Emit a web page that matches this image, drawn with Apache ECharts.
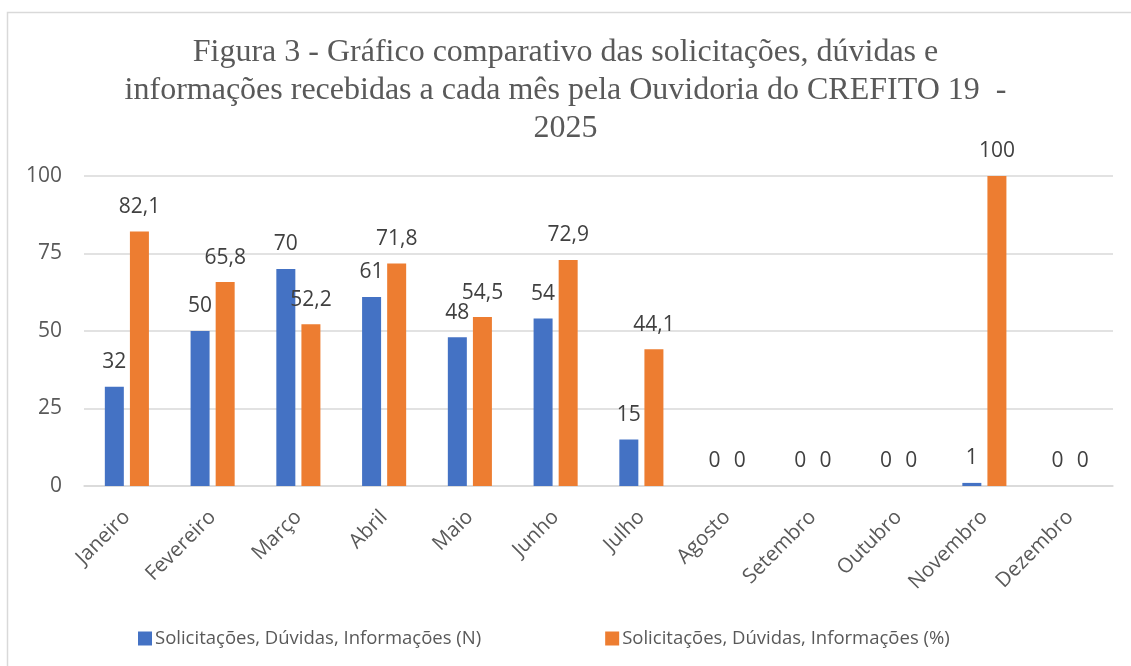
<!DOCTYPE html>
<html><head><meta charset="utf-8">
<script src="https://cdn.jsdelivr.net/npm/echarts@6/dist/echarts.min.js"></script>
<style>html,body{margin:0;padding:0;background:#fff}#c{width:1131px;height:666px}</style>
</head><body><div id="c"></div>
<script>
const categories = ['Janeiro','Fevereiro','Março','Abril','Maio','Junho','Julho','Agosto','Setembro','Outubro','Novembro','Dezembro'];
const seriesN = [32,50,70,61,48,54,15,0,0,0,1,0];
const seriesPct = [82.1,65.8,52.2,71.8,54.5,72.9,44.1,0,0,0,100,0];
const seriesNames = ['Solicitações, Dúvidas, Informações (N)','Solicitações, Dúvidas, Informações (%)'];
const yTicks = [0,25,50,75,100];
const titleText = 'Figura 3 - Gráfico comparativo das solicitações, dúvidas e\ninformações recebidas a cada mês pela Ouvidoria do CREFITO 19  -\n2025';

const chart = echarts.init(document.getElementById('c'));
const fontSans = '"Open Sans", "Noto Sans", sans-serif';
const lbl = {
  show: true, position: 'top', distance: 14,
  color: '#404040', fontSize: 21, fontFamily: fontSans,
  formatter: p => String(p.value).replace('.', ',')
};
chart.setOption({
  animation: false,
  graphic: [{
    type: 'rect', silent: true,
    shape: {x: 7.5, y: 12.5, width: 1200, height: 700},
    style: {fill: 'none', stroke: '#D9D9D9', lineWidth: 1.5}
  }],
  title: {
    text: titleText, left: 'center', top: 29,
    textStyle: {fontFamily: '"Liberation Serif", "Times New Roman", serif', fontSize: 32, fontWeight: 'normal', color: '#595959', lineHeight: 38}
  },
  grid: {left: 84, right: 18, top: 176, bottom: 180, containLabel: false},
  legend: {
    top: 624, left: 133, itemWidth: 14, itemHeight: 14, itemGap: 124,
    icon: 'rect',
    textStyle: {fontFamily: fontSans, fontSize: 18.5, color: '#595959', padding: [0,0,0,-2]},
    data: seriesNames
  },
  xAxis: {
    type: 'category', data: categories,
    axisLine: {lineStyle: {color: '#D9D9D9', width: 1.5}},
    axisTick: {show: false},
    axisLabel: {rotate: 45, interval: 0, fontFamily: fontSans, fontSize: 20.5, color: '#595959', margin: 28}
  },
  yAxis: {
    type: 'value', min: 0, max: 100, interval: 25,
    axisLine: {show: false}, axisTick: {show: false},
    splitLine: {lineStyle: {color: '#D9D9D9', width: 1.5}},
    axisLabel: {fontFamily: fontSans, fontSize: 21, color: '#595959', margin: 22,
      formatter: v => yTicks.includes(v) ? String(v) : ''}
  },
  series: [
    {name: seriesNames[0], type: 'bar', data: seriesN, barWidth: 19, barGap: '32%',
      itemStyle: {color: '#4472C4'}, label: lbl},
    {name: seriesNames[1], type: 'bar', data: seriesPct, barWidth: 19,
      itemStyle: {color: '#ED7D31'}, label: lbl}
  ]
});
</script></body></html>
